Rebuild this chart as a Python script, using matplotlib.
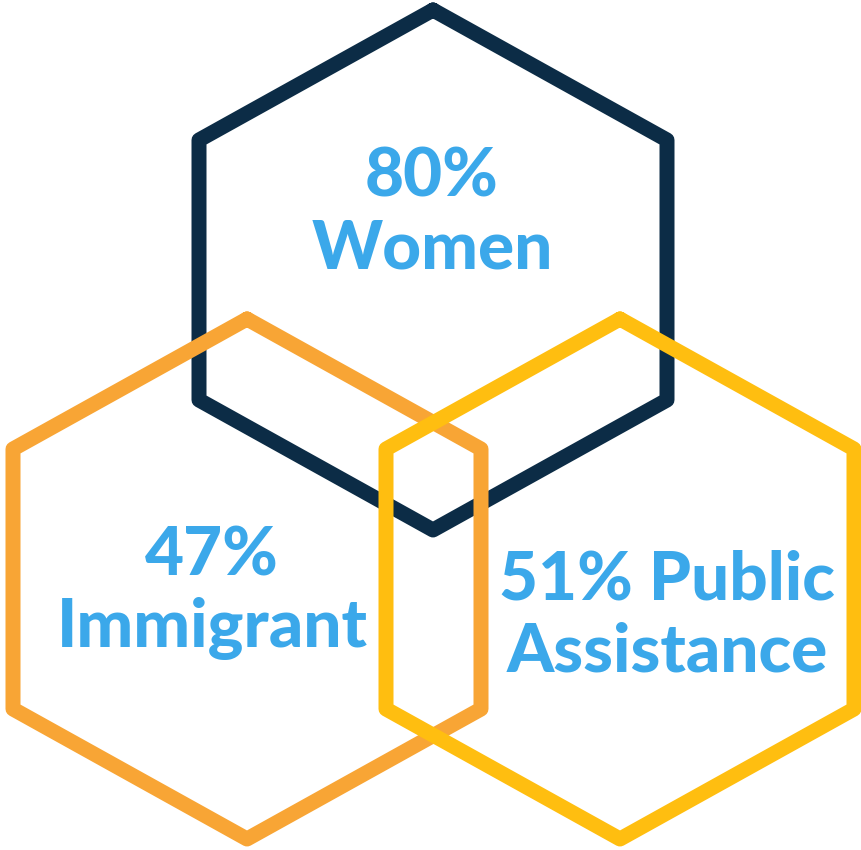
import numpy as np
import matplotlib
matplotlib.use("Agg")
import matplotlib.pyplot as plt

# groups shown in the hexagons
percents = [80, 47, 51]
labels = ["Women", "Immigrant", "Public\nAssistance"]
colors = ["#0c2c46", "#f8a535", "#ffbe10"]
text_color = "#3ba8ea"

# hexagon centres (pixels) and half sizes
centers = [(433, 270), (247, 579), (620, 579)]
half_w = 234
half_h = 260

fig = plt.figure(figsize=(8.61, 8.50), dpi=100)
ax = fig.add_axes([0, 0, 1, 1])
ax.set_xlim(0, 861)
ax.set_ylim(850, 0)
ax.axis("off")


def hexagon(cx, cy):
    xs = [cx, cx + half_w, cx + half_w, cx, cx - half_w, cx - half_w, cx]
    ys = [cy - half_h, cy - half_h / 2, cy + half_h / 2, cy + half_h,
          cy + half_h / 2, cy - half_h / 2, cy - half_h]
    return xs, ys


for (cx, cy), c in zip(centers, colors):
    xs, ys = hexagon(cx, cy)
    ax.plot(xs, ys, color=c, lw=10.8, solid_joinstyle="round",
            solid_capstyle="round")

font = dict(family=["Lato", "DejaVu Sans"], weight="black", size=48.5,
            color=text_color, ha="center", va="center", linespacing=1.2)

ax.text(432, 213, f"{percents[0]}%\n{labels[0]}", **font)
ax.text(212, 593, f"{percents[1]}%\n{labels[1]}", **font)
ax.text(667, 617, f"{percents[2]}% " + labels[2], **font)

fig.savefig("out.png", dpi=100)
